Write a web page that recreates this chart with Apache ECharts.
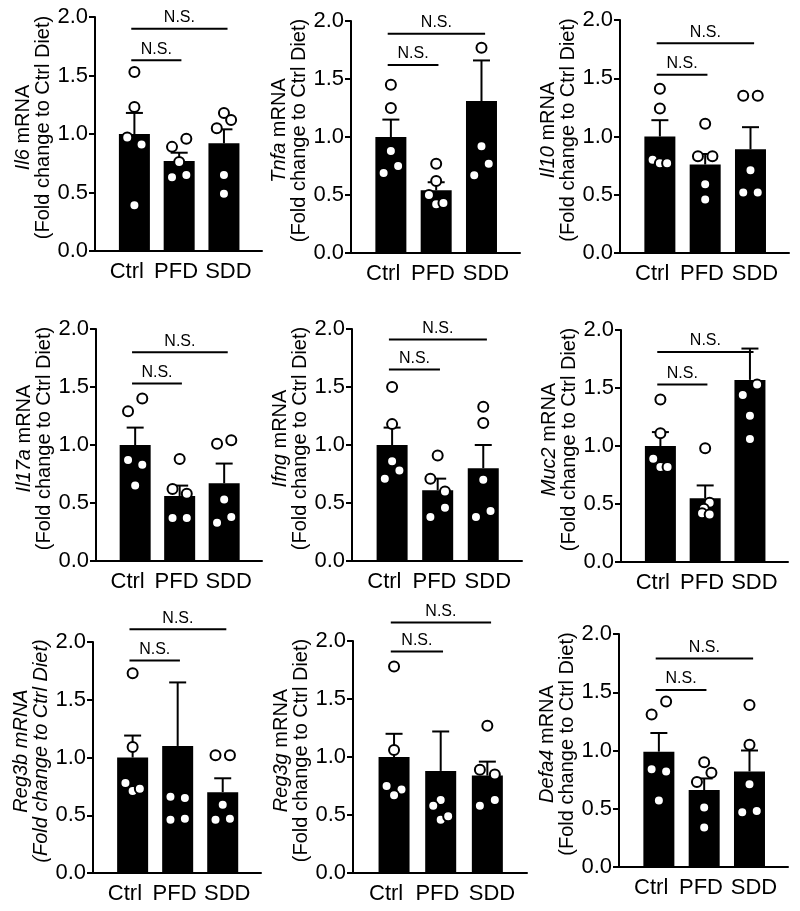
<!DOCTYPE html>
<html>
<head>
<meta charset="utf-8">
<script src="https://cdn.jsdelivr.net/npm/echarts@6/dist/echarts.min.js"></script>
<style>html,body{margin:0;padding:0;background:#fff}#c{width:800px;height:911px}</style>
</head>
<body>
<div id="c"></div>
<script>
// ---------- DATA ----------
const categories = ['Ctrl', 'PFD', 'SDD'];
const yTickLabels = ['0.0', '0.5', '1.0', '1.5', '2.0'];
const genes = ['Il6', 'Tnfa', 'Il10', 'Il17a', 'Ifng', 'Muc2', 'Reg3b', 'Reg3g', 'Defa4'];
const sigLabel = 'N.S.';

// group means (bar heights)
const il6Mean   = [1.00, 0.77, 0.92];
const tnfaMean  = [1.00, 0.54, 1.31];
const il10Mean  = [1.00, 0.76, 0.89];
const il17aMean = [1.00, 0.56, 0.67];
const ifngMean  = [1.00, 0.61, 0.80];
const muc2Mean  = [1.00, 0.55, 1.57];
const reg3bMean = [1.00, 1.10, 0.70];
const reg3gMean = [1.00, 0.88, 0.84];
const defa4Mean = [0.99, 0.66, 0.82];

// SEM (upper error bar)
const il6Sem   = [0.18, 0.07, 0.12];
const tnfaSem  = [0.15, 0.07, 0.35];
const il10Sem  = [0.14, 0.09, 0.19];
const il17aSem = [0.15, 0.09, 0.17];
const ifngSem  = [0.15, 0.10, 0.20];
const muc2Sem  = [0.12, 0.11, 0.27];
const reg3bSem = [0.19, 0.55, 0.12];
const reg3gSem = [0.20, 0.34, 0.12];
const defa4Sem = [0.16, 0.10, 0.18];

// individual animals: [group index + jitter, value]
const il6Points = [
  [0, 1.53], [0, 1.23], [-0.16, 0.97], [0.16, 0.91], [0, 0.39],
  [0.84, 0.89], [1.16, 0.96], [1, 0.76], [0.84, 0.63], [1.16, 0.65],
  [2, 1.18], [2.16, 1.12], [1.84, 1.05], [2, 0.65], [2, 0.49]
];
const tnfaPoints = [
  [0, 1.45], [0, 1.25], [0, 0.88], [-0.16, 0.69], [0.16, 0.75],
  [1, 0.77], [1, 0.62], [0.84, 0.50], [1, 0.42], [1.16, 0.43],
  [2, 1.77], [2, 0.92], [2.16, 0.77], [1.84, 0.67]
];
const il10Points = [
  [0, 1.41], [0, 1.24], [-0.16, 0.80], [0, 0.77], [0.16, 0.77],
  [1, 1.11], [0.84, 0.83], [1.16, 0.83], [1, 0.59], [1, 0.46],
  [1.84, 1.35], [2.16, 1.35], [2, 0.71], [1.84, 0.52], [2.16, 0.52]
];
const il17aPoints = [
  [-0.16, 1.29], [0.16, 1.40], [-0.16, 0.87], [0.16, 0.83], [0, 0.65],
  [1, 0.88], [0.84, 0.62], [1.16, 0.58], [0.84, 0.37], [1.16, 0.37],
  [2.16, 1.04], [1.84, 1.01], [2, 0.53], [1.84, 0.33], [2.16, 0.38]
];
const ifngPoints = [
  [0, 1.50], [0, 1.18], [0, 0.86], [-0.16, 0.71], [0.16, 0.78],
  [1, 0.91], [0.84, 0.71], [1.16, 0.60], [1.16, 0.46], [0.84, 0.38],
  [2, 1.33], [2, 1.19], [2, 0.70], [1.84, 0.38], [2.16, 0.43]
];
const muc2Points = [
  [0, 1.40], [0, 1.11], [-0.16, 0.89], [0, 0.82], [0.16, 0.82],
  [1, 0.98], [1.1, 0.51], [0.97, 0.46], [0.93, 0.42], [1.1, 0.41],
  [1.84, 1.44], [2.16, 1.53], [2, 1.26], [2, 1.06]
];
const reg3bPoints = [
  [0, 1.73], [0, 1.09], [-0.16, 0.78], [0, 0.71], [0.16, 0.73],
  [0.84, 0.66], [1.16, 0.65], [0.84, 0.46], [1.16, 0.47],
  [1.84, 1.02], [2.16, 1.02], [2, 0.59], [1.84, 0.46], [2.16, 0.47]
];
const reg3gPoints = [
  [0, 1.78], [0, 1.06], [-0.16, 0.75], [0.16, 0.72], [0, 0.67],
  [1, 0.63], [0.84, 0.58], [1, 0.46], [1.16, 0.49],
  [2, 1.27], [1.84, 0.89], [2.16, 0.85], [1.84, 0.58], [2.16, 0.63]
];
const defa4Points = [
  [-0.16, 1.31], [0.16, 1.42], [-0.16, 0.84], [0.16, 0.82], [0, 0.57],
  [1, 0.90], [1.16, 0.81], [0.84, 0.73], [1, 0.51], [1, 0.34],
  [2, 1.39], [2, 1.05], [2, 0.71], [1.84, 0.47], [2.16, 0.48]
];

// significance bracket heights: [Ctrl vs SDD, Ctrl vs PFD]
const il6Sig   = [1.90, 1.63];
const tnfaSig  = [1.89, 1.62];
const il10Sig  = [1.80, 1.53];
const il17aSig = [1.80, 1.53];
const ifngSig  = [1.91, 1.65];
const muc2Sig  = [1.81, 1.53];
const reg3bSig = [2.11, 1.84];
const reg3gSig = [2.16, 1.91];
const defa4Sig = [1.79, 1.52];

const means  = [il6Mean, tnfaMean, il10Mean, il17aMean, ifngMean, muc2Mean, reg3bMean, reg3gMean, defa4Mean];
const sems   = [il6Sem, tnfaSem, il10Sem, il17aSem, ifngSem, muc2Sem, reg3bSem, reg3gSem, defa4Sem];
const points = [il6Points, tnfaPoints, il10Points, il17aPoints, ifngPoints, muc2Points, reg3bPoints, reg3gPoints, defa4Points];
const sigs   = [il6Sig, tnfaSig, il10Sig, il17aSig, ifngSig, muc2Sig, reg3bSig, reg3gSig, defa4Sig];

// ---------- LAYOUT / STYLE ----------
// [axis left x, top (y=2.0), right end, bottom (y=0)]
const panelBoxes = [
  [95, 17, 262, 251], [351, 21, 520, 253], [620, 20, 789, 253],
  [96, 329, 262, 561], [352, 329, 522, 561], [621, 330, 788, 562],
  [93, 642, 261, 873], [353, 641, 527, 873], [619, 634, 788, 867]
];
const allItalic = [false, false, false, false, false, false, true, false, false];
const labelSpots = [-0.17, 0.93, 2.1];   // where the category names sit along x
const FONT = 'Liberation Sans, Arial, Helvetica, sans-serif';
const X_MIN = -0.88, X_MAX = 2.85;

const grids = [], xAxes = [], yAxes = [], series = [];

panelBoxes.forEach((b, i) => {
  grids.push({ left: b[0], top: b[1], width: b[2] - b[0], height: b[3] - b[1], containLabel: false });
  xAxes.push({
    type: 'value', gridIndex: i, min: X_MIN, max: X_MAX,
    splitLine: { show: false },
    axisLine: { onZero: false, lineStyle: { color: '#000', width: 2 } },
    axisTick: { show: false },
    axisLabel: {
      customValues: labelSpots,
      formatter: v => categories[Math.round(v)],
      color: '#000', fontFamily: FONT, fontSize: 22, margin: 10
    }
  });
  const it = allItalic[i];
  const nm = '{i|' + genes[i] + '}' + (it ? '{i| mRNA}' : '{n| mRNA}') + '\n' +
             (it ? '{i|(Fold change to Ctrl Diet)}' : '{n|(Fold change to Ctrl Diet)}');
  yAxes.push({
    type: 'value', gridIndex: i, min: 0, max: 2, interval: 0.5,
    splitLine: { show: false },
    axisLine: { show: true, onZero: false, lineStyle: { color: '#000', width: 2 } },
    axisTick: { show: true, length: 6, lineStyle: { color: '#000', width: 2 } },
    axisLabel: {
      formatter: v => yTickLabels[Math.round(v / 0.5)],
      color: '#000', fontFamily: FONT, fontSize: 22, margin: 7
    },
    name: nm, nameLocation: 'middle', nameGap: 41,
    nameTextStyle: {
      color: '#000', fontFamily: FONT, fontSize: 20, lineHeight: 20,
      padding: [0, 0, 0, 13],
      rich: {
        i: { fontStyle: 'italic', fontFamily: FONT, fontSize: 20, color: '#000', lineHeight: 20 },
        n: { fontFamily: FONT, fontSize: 20, color: '#000', lineHeight: 20 }
      }
    }
  });

  // bars
  series.push({
    type: 'bar', xAxisIndex: i, yAxisIndex: i, barWidth: 31,
    itemStyle: { color: '#000' }, silent: true, animation: false,
    data: means[i].map((m, k) => [k, m])
  });
  // error bars (upper only)
  series.push({
    type: 'custom', xAxisIndex: i, yAxisIndex: i, animation: false, silent: true, z: 3,
    data: means[i].map((m, k) => [k, m, m + sems[i][k]]),
    encode: { x: 0, y: [1, 2] },
    renderItem: (params, api) => {
      const p0 = api.coord([api.value(0), api.value(1)]);
      const p1 = api.coord([api.value(0), api.value(2)]);
      const hw = 8.5;
      return {
        type: 'group', children: [
          { type: 'line', shape: { x1: p0[0], y1: p0[1], x2: p1[0], y2: p1[1] }, style: { stroke: '#000', lineWidth: 2 } },
          { type: 'line', shape: { x1: p1[0] - hw, y1: p1[1], x2: p1[0] + hw, y2: p1[1] }, style: { stroke: '#000', lineWidth: 2 } }
        ]
      };
    }
  });
  // individual points
  series.push({
    type: 'scatter', xAxisIndex: i, yAxisIndex: i, animation: false, silent: true, z: 4,
    symbol: 'circle', symbolSize: 10,
    itemStyle: { color: '#fff', borderColor: '#000', borderWidth: 2, opacity: 1 },
    data: points[i]
  });
  // significance brackets
  series.push({
    type: 'custom', xAxisIndex: i, yAxisIndex: i, animation: false, silent: true, z: 5, clip: false,
    data: [[-0.07, 2.08, sigs[i][0]], [-0.07, 1.05, sigs[i][1]]],
    encode: { x: [0, 1], y: 2 },
    renderItem: (params, api) => {
      const a = api.coord([api.value(0), api.value(2)]);
      const c = api.coord([api.value(1), api.value(2)]);
      return {
        type: 'group', children: [
          { type: 'line', shape: { x1: a[0], y1: a[1], x2: c[0], y2: c[1] }, style: { stroke: '#000', lineWidth: 2 } },
          { type: 'text', x: (a[0] + c[0]) / 2, y: a[1] - 3,
            style: { text: sigLabel, textAlign: 'center', textVerticalAlign: 'bottom', fontFamily: FONT, fontSize: 16, fill: '#000' } }
        ]
      };
    }
  });
});

const chart = echarts.init(document.getElementById('c'), null, { renderer: 'canvas' });
chart.setOption({
  backgroundColor: '#fff',
  animation: false,
  grid: grids, xAxis: xAxes, yAxis: yAxes, series: series
});
</script>
</body>
</html>
